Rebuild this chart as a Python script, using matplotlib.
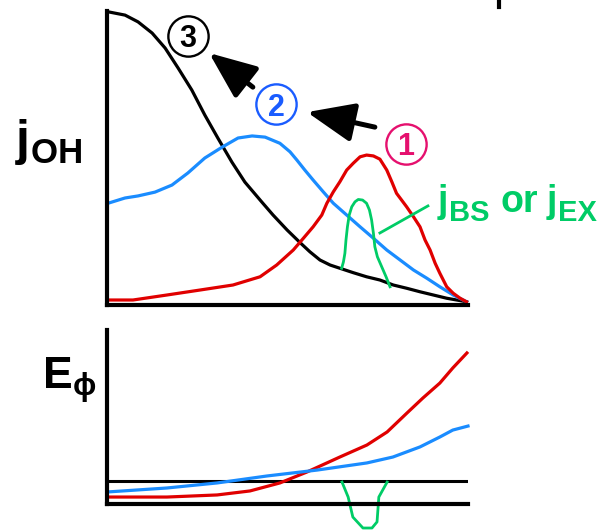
import matplotlib
matplotlib.use("Agg")
import matplotlib.pyplot as plt

plt.rcParams["font.family"] = ["Liberation Sans", "DejaVu Sans"]
plt.rcParams["font.weight"] = "bold"
plt.rcParams["mathtext.fontset"] = "custom"
plt.rcParams["mathtext.default"] = "bf"
plt.rcParams["mathtext.bf"] = "Liberation Sans:bold"
plt.rcParams["mathtext.rm"] = "Liberation Sans:bold"

RED   = "#e00000"
BLUE  = "#1a8cff"
GREEN = "#00cc66"
PINK  = "#e5106e"
DBLUE = "#1a5cff"

# ── upper panel: j_OH profiles (x = radius, 0..100) ─────────────────────────
black_x = [0, 5.0, 8.6, 12.5, 16.1, 19.7, 23.5, 27.1, 30.7, 34.6, 38.2, 42.9,
           46.0, 49.9, 53.5, 56.2, 59.0, 61.8, 64.5, 68.2, 71.9, 75.6, 79.3,
           83.0, 86.7, 90.4, 94.1, 97.8, 99.6]
black_y = [99.8, 98.6, 96.3, 92.5, 87.4, 80.6, 73.1, 64.6, 56.8, 48.6, 41.8, 35.0,
           30.6, 25.5, 21.2, 18.1, 15.3, 13.6, 12.5, 11.0, 9.6, 8.5, 6.8,
           5.7, 4.5, 3.4, 2.3, 1.5, 1.1]

blue_x = [0, 5.0, 8.6, 13.3, 18.0, 22.4, 27.1, 31.9, 36.3, 40.2, 43.8, 47.9,
          50.7, 52.6, 54.8, 57.1, 59.9, 62.7, 66.4, 70.1, 73.8, 77.5, 81.2,
          84.9, 88.6, 92.2, 95.9, 99.6]
blue_y = [34.5, 36.4, 37.1, 38.4, 40.8, 44.9, 50.0, 53.7, 56.8, 57.5, 57.1, 55.0,
          52.1, 49.3, 45.9, 42.5, 38.5, 34.6, 30.6, 26.6, 22.7, 18.7, 15.3,
          11.9, 9.1, 6.2, 3.4, 1.1]

red_x = [0, 7.2, 16.6, 25.8, 34.9, 42.4, 47.0, 51.6, 54.4, 57.1, 59.5, 60.9,
         62.7, 64.5, 66.4, 68.2, 70.1, 71.9, 73.8, 75.6, 77.5, 78.9, 80.2,
         81.6, 83.0, 84.9, 86.7, 88.1, 89.5, 90.9, 92.2, 94.1, 95.9, 97.8, 99.6]
red_y = [1.7, 1.7, 3.4, 5.1, 6.8, 9.6, 13.6, 18.7, 22.7, 26.6, 30.6, 34.6,
         38.5, 41.9, 45.9, 48.2, 50.4, 51.0, 50.7, 49.6, 45.9, 41.9, 38.0,
         35.7, 33.4, 30.0, 26.6, 22.1, 18.7, 14.2, 10.8, 6.2, 4.0, 2.3, 1.1]

bs_x = [65.0, 65.5, 65.9, 66.2, 66.6, 67.1, 67.8, 68.7, 69.6, 70.8, 71.9, 72.7,
        73.3, 73.8, 74.2, 74.9, 76.1, 77.3, 78.4]
bs_y = [12.5, 14.7, 17.6, 22.1, 26.6, 30.6, 33.4, 35.1, 35.9, 35.7, 34.6, 32.3,
        28.9, 24.4, 19.8, 16.4, 13.0, 9.6, 6.2]

# ── lower panel: E_phi profiles ──────────────────────────────────────────────
e_red_x = [0, 16.6, 30.5, 39.6, 47.9, 55.4, 64.5, 72.0, 77.6, 83.1, 87.5, 92.2, 95.8, 99.7]
e_red_y = [4.0, 4.0, 5.2, 7.5, 12.1, 18.4, 27.0, 33.9, 41.4, 52.3, 60.9, 69.5, 78.2, 86.8]

e_blue_x = [0, 16.6, 30.5, 44.3, 58.2, 72.0, 79.2, 86.7, 92.2, 95.8, 100]
e_blue_y = [6.9, 9.2, 12.1, 16.1, 19.5, 23.6, 27.0, 32.8, 38.5, 42.5, 44.8]

e_bs_x = [65.1, 66.8, 68.1, 70.9, 73.4, 74.8, 75.3, 77.6]
e_bs_y = [12.6, 4.0, -7.5, -13.8, -13.8, -10.3, 4.0, 12.6]

E_LEVEL = 13.2

# circled stage labels and arrows (upper-panel data coords)
stage_txt = ["1", "2", "3"]
stage_x   = [82.8, 46.8, 22.4]
stage_y   = [54.8, 68.2, 91.5]
stage_col = [PINK, DBLUE, "black"]
arrow_tail = [(74.2, 60.5), (40.4, 74.1)]
arrow_tip  = [(55.4, 65.6), (28.3, 85.7)]

W, H = 606, 530
fig = plt.figure(figsize=(W / 100, H / 100), dpi=100)
ax  = fig.add_axes([107 / W, 1 - 305 / H, 361 / W, 294 / H])
ax2 = fig.add_axes([107 / W, 1 - 504 / H, 361 / W, 174 / H])

for a in (ax, ax2):
    a.set_xlim(0, 100)
    a.set_ylim(0, 100)
    a.set_xticks([])
    a.set_yticks([])
    a.spines[["top", "right"]].set_visible(False)
    a.spines[["left", "bottom"]].set_linewidth(3)
    a.patch.set_alpha(0)

lw = 2.3
ax.plot(black_x, black_y, color="black", lw=lw, clip_on=False)
ax.plot(blue_x, blue_y, color=BLUE, lw=lw, clip_on=False)
ax.plot(red_x, red_y, color=RED, lw=lw, clip_on=False)
ax.plot(bs_x, bs_y, color=GREEN, lw=2.0, clip_on=False)
ax.plot([75.6, 88.9], [24.5, 33.7], color=GREEN, lw=2.0, clip_on=False)

# "j_BS or j_EX" built from pieces (pixel positions of each piece, baseline)
def ptext(x, y, s, size, **kw):
    fig.text(x / W, 1 - y / H, s, fontsize=size, ha="left", va="baseline", **kw)

ptext(438, 212, "j", 27, color=GREEN)
ptext(449, 221, "BS", 21, color=GREEN)
ptext(501, 212, "or", 27, color=GREEN)
ptext(547, 212, "j", 27, color=GREEN)
ptext(558, 221, "EX", 21, color=GREEN)

for t, x, y, c in zip(stage_txt, stage_x, stage_y, stage_col):
    ax.plot(x, y, "o", ms=29, mfc="none", mec=c, mew=1.7, clip_on=False)
    ax.text(x, y, t, color=c, fontsize=22, ha="center", va="center_baseline")

for (x0, y0), (x1, y1) in zip(arrow_tail, arrow_tip):
    ax.annotate("", xy=(x1, y1), xytext=(x0, y0),
                arrowprops=dict(arrowstyle="-|>,head_length=29,head_width=12",
                                mutation_scale=1, lw=3.6, color="black",
                                shrinkA=0, shrinkB=0))

# piece of something cut off at the top edge
ax.plot([108.6, 108.6], [101.4, 104], color="black", lw=3, clip_on=False)

ax2.axhline(E_LEVEL, color="black", lw=2.2)
ax2.plot(e_red_x, e_red_y, color=RED, lw=lw, clip_on=False)
ax2.plot(e_blue_x, e_blue_y, color=BLUE, lw=lw, clip_on=False)
ax2.plot(e_bs_x, e_bs_y, color=GREEN, lw=2.0, clip_on=False)

fig.text(15 / W, 1 - 142 / H, r"$j_{OH}$", fontsize=36, ha="left", va="center")
fig.text(42 / W, 1 - 380 / H, r"$E_{\phi}$", fontsize=32, ha="left", va="center")

fig.savefig("out.png", dpi=100)
